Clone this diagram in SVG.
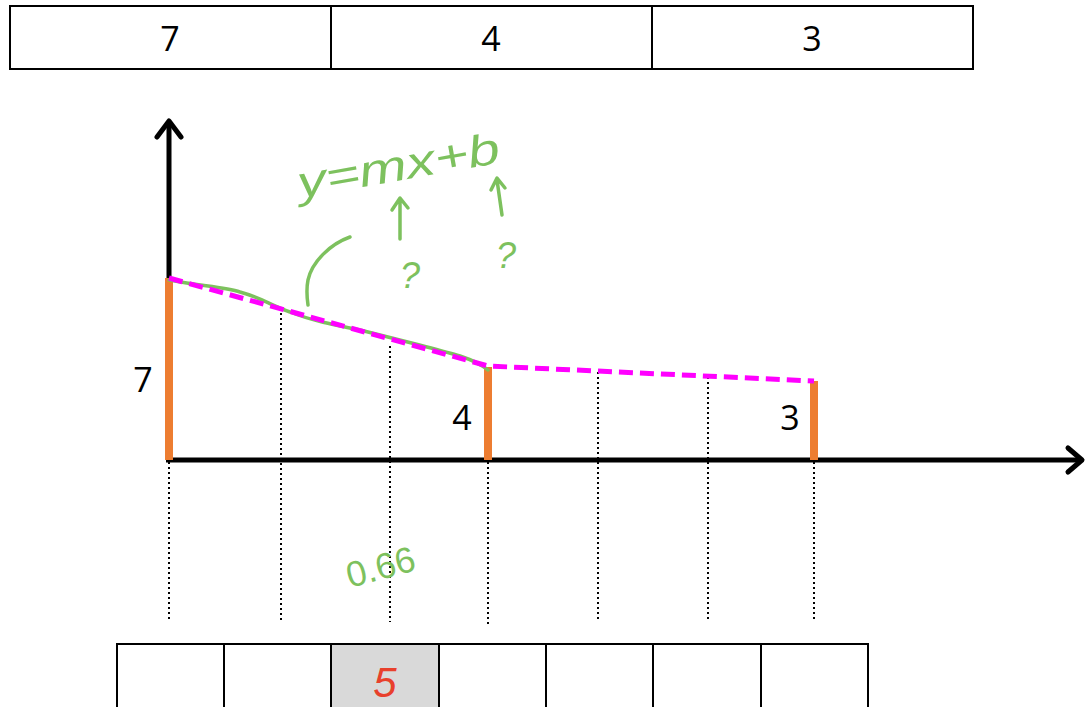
<svg xmlns="http://www.w3.org/2000/svg" width="1086" height="707" viewBox="0 0 1086 707">
<style>
.cell{fill:#fff;stroke:#000;stroke-width:2}
.lbl{font-family:"Open Sans","Liberation Sans",sans-serif;font-size:34px;fill:#000;text-anchor:middle}
.dot{stroke:#000;stroke-width:2;stroke-dasharray:2 3;fill:none}
.bar{stroke:#ed7d31;stroke-width:8;fill:none}
.axis{stroke:#000;stroke-width:5;fill:none}
.head{stroke:#000;stroke-width:5;fill:none;stroke-linecap:round;stroke-linejoin:round}
.green{stroke:#7dc15e;stroke-width:3.5;fill:none;stroke-linecap:round;stroke-linejoin:round}
.gtext{font-family:"Liberation Sans",sans-serif;fill:#7dc15e}
</style>
<rect width="1086" height="707" fill="#fff"/>
<g id="top-table">
<g id="top-7"><rect class="cell" x="10" y="6" width="321" height="63"/><text class="lbl" x="170" y="51">7</text></g>
<g id="top-4"><rect class="cell" x="331" y="6" width="321" height="63"/><text class="lbl" x="491" y="51">4</text></g>
<g id="top-3"><rect class="cell" x="652" y="6" width="321" height="63"/><text class="lbl" x="812" y="51">3</text></g>
</g>
<g id="dotted-guides">
<line class="dot" x1="169" y1="462" x2="169" y2="622"/>
<line class="dot" x1="281" y1="313" x2="281" y2="622"/>
<line class="dot" x1="390" y1="346" x2="390" y2="622"/>
<line class="dot" x1="488" y1="462" x2="488" y2="626"/>
<line class="dot" x1="598" y1="372" x2="598" y2="622"/>
<line class="dot" x1="708" y1="377" x2="708" y2="622"/>
<line class="dot" x1="814" y1="462" x2="814" y2="622"/>
</g>
<g id="axes">
<line class="axis" x1="169" y1="122" x2="169" y2="460"/>
<polyline class="head" points="157,137 169,121 181,137"/>
<line class="axis" x1="166" y1="460" x2="1080" y2="460"/>
<polyline class="head" points="1068,448 1082,460 1068,472"/>
</g>
<g id="bars">
<g id="bar-7"><line class="bar" x1="169" y1="278" x2="169" y2="460"/><text class="lbl" x="143" y="392">7</text></g>
<g id="bar-4"><line class="bar" x1="488" y1="367" x2="488" y2="460"/><text class="lbl" x="462" y="430">4</text></g>
<g id="bar-3"><line class="bar" x1="814" y1="381" x2="814" y2="460"/><text class="lbl" x="790" y="430">3</text></g>
</g>
<g id="connectors">
<path class="green" d="M169,280 C200,286 225,287 240,292 C262,298 270,305 290,312 C310,320 330,324 360,330 C400,340 440,350 460,356 C475,361 482,365 488,370"/>
<polyline points="169,278 488,366 814,381" fill="none" stroke="#ff00ff" stroke-width="5" stroke-dasharray="14 7"/>
</g>
<g id="annotations">
<text class="gtext" x="300" y="198" font-size="44" transform="rotate(-10 300 198)" font-style="italic" textLength="205" lengthAdjust="spacingAndGlyphs">y=mx+b</text>
<path class="green" d="M400,239 L400,199 M392,210 L400,198 L408,208"/>
<path class="green" d="M502,215 L497,180 M491,190 L497,178 L505,188"/>
<text class="gtext" x="400" y="288" font-size="36" font-style="italic">?</text>
<text class="gtext" x="496" y="268" font-size="36" font-style="italic">?</text>
<path class="green" d="M350,237 C330,244 312,262 308,280 C306,290 307,298 308,305"/>
<text class="gtext" x="350" y="588" font-size="36" transform="rotate(-15 350 588)">0.66</text>
</g>
<g id="bottom-table">
<rect class="cell" x="117" y="644" width="107" height="70"/>
<rect class="cell" x="224" y="644" width="107" height="70"/>
<rect class="cell" x="331" y="644" width="108" height="70" style="fill:#d9d9d9"/>
<rect class="cell" x="439" y="644" width="107" height="70"/>
<rect class="cell" x="546" y="644" width="107" height="70"/>
<rect class="cell" x="653" y="644" width="108" height="70"/>
<rect class="cell" x="761" y="644" width="107" height="70"/>
<text x="385" y="697" font-family="Liberation Sans,sans-serif" font-size="42" fill="#e8402c" text-anchor="middle" font-style="italic">5</text>
</g>
</svg>
